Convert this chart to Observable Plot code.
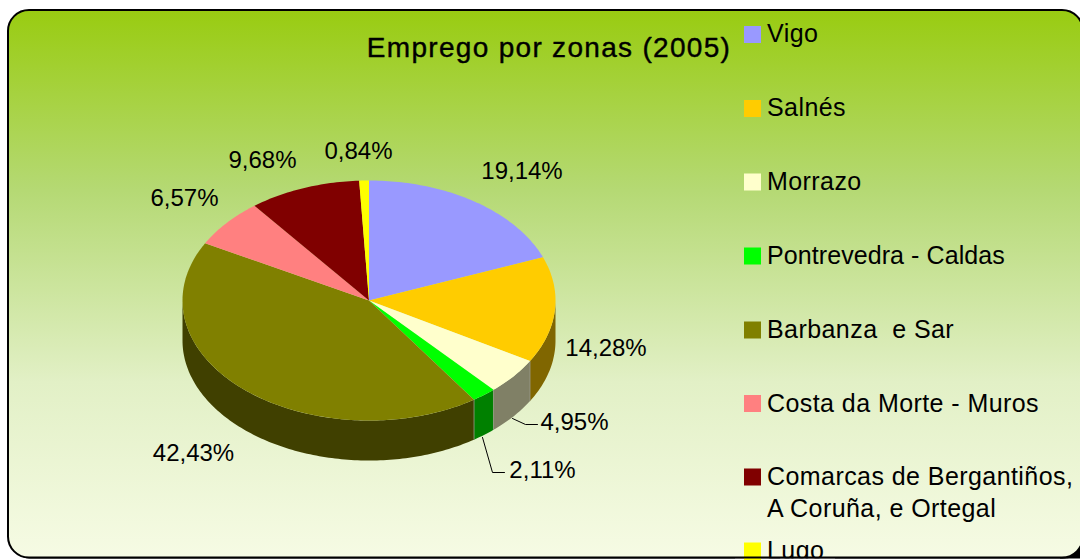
<!DOCTYPE html>
<html><head><meta charset="utf-8">
<script src="https://cdn.jsdelivr.net/npm/d3@7"></script>
<script src="https://cdn.jsdelivr.net/npm/@observablehq/plot@0.6"></script>
<style>
html,body{margin:0;padding:0;background:#fff}
svg{display:block;font-family:"Liberation Sans",Arial,sans-serif}
.title text{letter-spacing:1.3px}
.legend text{letter-spacing:0.43px;white-space:pre}
.legend text:nth-child(4){letter-spacing:0.08px}
</style></head><body><script>
// Data
const zones = ["Vigo","Salnés","Morrazo","Pontrevedra - Caldas","Barbanza  e Sar","Costa da Morte - Muros","Comarcas de Bergantiños,\nA Coruña, e Ortegal","Lugo"];
const shares = [19.14,14.28,4.95,2.11,42.43,6.57,9.68,0.84];
const shareLabels = ["19,14%","14,28%","4,95%","2,11%","42,43%","6,57%","9,68%","0,84%"];
const topColors = ["#9999FF","#FFCC00","#FFFFCC","#00FF00","#808000","#FF8080","#800000","#FFFF00"];
const sideColors = ["#4D4D80","#806600","#808066","#008000","#404000","#804040","#400000","#808000"];
const titleText = "Emprego por zonas (2005)";

// Layout
const W = 1080, H = 560;
const cx = 368.5, cy = 300, rx = 186.5, ry = 120, depth = 40;
const labelXs = [521.5,605.5,574,542,193,184,262,358];
const labelYs = [171,348,422,470,453,198,160,151];
const legendYs = [34.5,108.5,182,256,330,403.5,477,551];
const legendTextYs = [30.5,104.5,178.5,252.5,326.5,400.5,473.5,548];
const leaders = [[[512,418],[525,424],[537,424]],[[482,437],[492,472],[504,472]]];

const total = d3.sum(shares);
const cum = d3.cumsum(shares);
const bounds = shares.map((s,i)=>[((cum[i]-s)/total)*360,(cum[i]/total)*360]);
const px = a => cx + rx*Math.sin(a*Math.PI/180);
const py = a => cy - ry*Math.cos(a*Math.PI/180);
const arc = (a0,a1) => { const n=Math.max(2,Math.ceil((a1-a0)/1)); return d3.range(n+1).map(k=>a0+(a1-a0)*k/n); };

const topPts = bounds.flatMap(([a0,a1],i)=>[
  {i,x:cx,y:cy,c:topColors[i]},
  ...arc(a0,a1).map(a=>({i,x:px(a),y:py(a),c:topColors[i]}))
]);
const sidePts = bounds.flatMap(([a0,a1],i)=>{
  const b0=Math.max(a0,90), b1=Math.min(a1,270);
  if(b1<=b0) return [];
  const as=arc(b0,b1);
  return [...as.map(a=>({i,x:px(a),y:py(a),c:sideColors[i]})),
          ...as.slice().reverse().map(a=>({i,x:px(a),y:py(a)+depth,c:sideColors[i]}))];
});
const edgeAngles = bounds.map(b=>b[1]).filter(a=>a>90&&a<270);
const leaderPts = leaders.flatMap((l,i)=>l.map(([x,y])=>({i,x,y})));

const defs = () => {
  const d = d3.create("svg:defs");
  const g = d.append("linearGradient").attr("id","bg").attr("x1",0).attr("x2",0).attr("y1",0).attr("y2",1);
  [[0,"#99CC11"],[0.33,"#B5D974"],[0.68,"#E2F0C6"],[1,"#F6FBE4"]].forEach(([o,c])=>g.append("stop").attr("offset",o).attr("stop-color",c));
  return d.node();
};
const one=[{}];
const chart = Plot.plot({
  width:W,height:H,margin:0,
  x:{domain:[0,W],range:[0,W],axis:null},
  y:{domain:[0,H],range:[0,H],axis:null},
  color:{type:"identity"},
  marks:[
    defs,
    Plot.rect(one,{x1:1060,x2:1080,y1:538,y2:558.5,fill:"#000"}),
    Plot.rect(one,{x1:9.5,x2:1085,y1:11,y2:558.5,rx:21,fill:"#000"}),
    Plot.rect(one,{x1:8,x2:1083,y1:10,y2:557.5,rx:21,fill:"url(#bg)"}),
    Plot.line(sidePts,{x:"x",y:"y",z:"i",fill:"c",stroke:null,curve:"linear-closed"}),
    Plot.link(edgeAngles,{x1:px,y1:py,x2:px,y2:a=>py(a)+depth,stroke:"#9a9a8a",strokeWidth:0.8}),
    Plot.line(topPts,{x:"x",y:"y",z:"i",fill:"c",stroke:null,curve:"linear-closed"}),
    Plot.line(leaderPts,{x:"x",y:"y",z:"i",stroke:"#000",strokeWidth:1,curve:"linear"}),
    Plot.text(shareLabels,{x:(d,i)=>labelXs[i],y:(d,i)=>labelYs[i],text:d=>d,fontSize:24,fill:"#000"}),
    Plot.text([titleText],{x:548.5,y:48,text:d=>d,fontSize:28,fill:"#000",stroke:"#000",strokeWidth:0.4,className:"title"}),
    Plot.text(zones,{x:766.5,y:(d,i)=>legendTextYs[i],text:d=>d,textAnchor:"start",lineAnchor:"top",dy:-12,lineHeight:1.28,fontSize:25,fill:"#000",className:"legend"}),
    Plot.rect(one,{x1:735,x2:835,y1:558.5,y2:H,fill:"#fff"}),
    Plot.rect(zones,{x1:744,x2:761,y1:(d,i)=>legendYs[i]-8.5,y2:(d,i)=>i===7?H:legendYs[i]+8.5,fill:(d,i)=>topColors[i]}),
    Plot.rect(one,{x1:8,x2:1083,y1:10,y2:557.5,rx:21,fill:"none",stroke:"#000",strokeWidth:2}),
  ]
});
document.body.appendChild(chart);
</script></body></html>
